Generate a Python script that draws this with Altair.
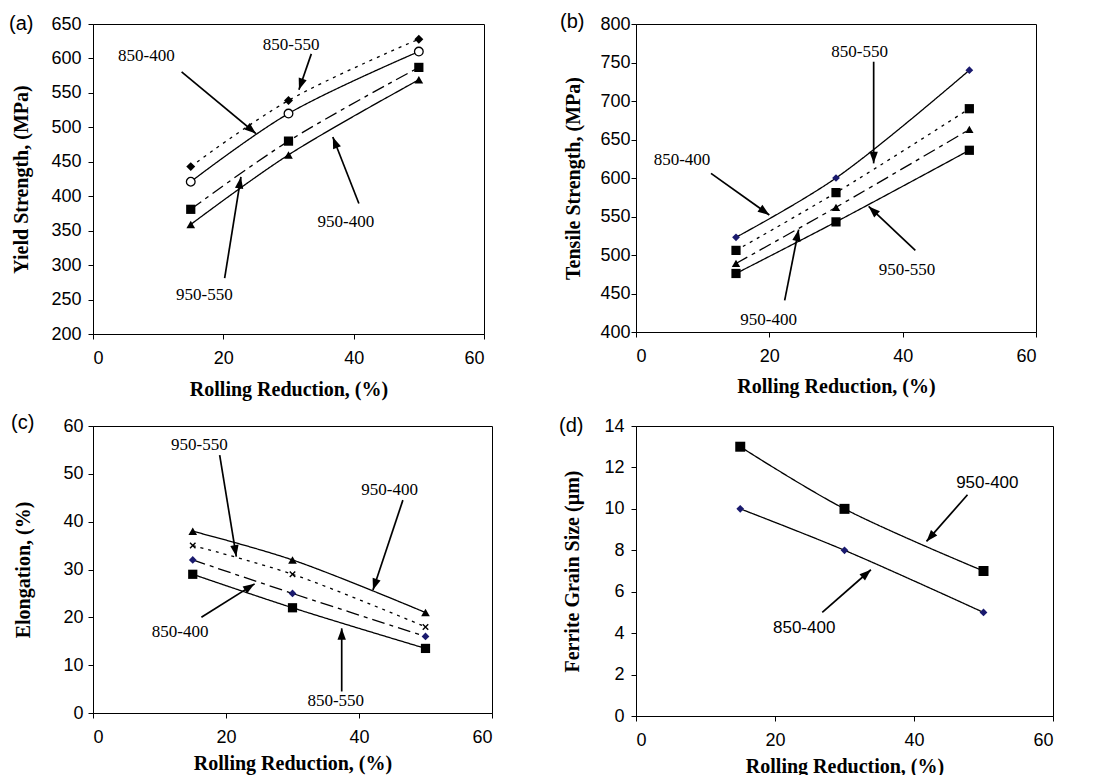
import math
import altair as alt
import pandas as pd

X = [15, 30, 50]

# (a) Yield strength (MPa)
A_DIAMOND = [443, 539, 628]
A_CIRCLE = [421, 520, 610]
A_SQUARE = [381, 480, 587]
A_TRIANGLE = [359, 460, 569]

# (b) Tensile strength (MPa)
B_DIAMOND = [523, 600, 740]
B_SQUARE_DOTTED = [506, 581, 690]
B_TRIANGLE = [489, 562, 663]
B_SQUARE = [476, 543, 636]

# (c) Elongation (%)
C_TRIANGLE = [38, 32, 21]
C_CROSS = [35, 29, 18]
C_DIAMOND = [32, 25, 16]
C_SQUARE = [29, 22, 13.5]

# (d) Ferrite grain size (um)
D_SQUARE = [13, 10, 7]
D_DIAMOND = [10, 8, 5]

# annotations: label text position, arrow start, arrow end (data units)
A_LABELS = ["850-400", "850-550", "950-400", "950-550"]
A_TX = [8.2, 30.4, 38.8, 17.1]
A_TY = [604, 620, 363, 256]
A_X1 = [13.6, 33.5, 40.8, 20.2]
A_Y1 = [580.5, 606.6, 389.5, 281]
A_X2 = [25.0, 31.6, 36.8, 22.7]
A_Y2 = [491, 554.5, 486, 428]

B_LABELS = ["850-400", "850-550", "950-550", "950-400"]
B_TX = [6.9, 33.55, 40.65, 19.9]
B_TY = [623, 764, 481, 416]
B_X1 = [11.25, 35.65, 41.9, 22.3]
B_Y1 = [606, 751, 506, 441]
B_X2 = [20.0, 35.65, 34.9, 24.4]
B_Y2 = [552, 619, 563, 533]

C_LABELS = ["950-550", "950-400", "850-400", "850-550"]
C_TX = [16.0, 44.6, 13.1, 36.5]
C_TY = [56.0, 46.6, 16.9, 2.6]
C_X1 = [19.05, 46.6, 16.3, 37.4]
C_Y1 = [53.9, 44.5, 20.0, 4.5]
C_X2 = [21.55, 42.1, 24.3, 37.4]
C_Y2 = [32.7, 25.7, 27.0, 17.7]

D_LABELS = ["950-400", "850-400"]
D_TX = [50.55, 24.2]
D_TY = [11.27, 4.25]
D_X1 = [47.7, 26.8]
D_Y1 = [10.68, 5.0]
D_X2 = [41.8, 33.8]
D_Y2 = [8.43, 7.06]

# ---- styles ----
SOLID = [1, 0]
DOTTED = [3, 5]
DASHDOT = [13, 5, 4, 5]
NAVY = "#1a1a6e"
ARROW = "M0,0L0.8,2.2L-0.8,2.2Z"
XMARK = "M-1,-1L1,1M1,-1L-1,1"


def panel(tag, series, labels, tx, ty, x1, y1, x2, y2, ydom, ystep, ytitle,
          w, h, title_x, title_y, tag_x, tag_y, text_font, text_size, ylp):
    xs = alt.Scale(domain=[0, 60], nice=False, zero=False)
    ys = alt.Scale(domain=ydom, nice=False, zero=False)
    yticks = list(range(ydom[0], ydom[1] + 1, ystep))
    xaxis = alt.Axis(values=[0, 20, 40, 60], title="Rolling Reduction, (%)",
                     titleY=title_y, titleBaseline="middle", labelPadding=10)
    yaxis = alt.Axis(values=yticks, title=ytitle, titleX=title_x,
                     titleBaseline="middle", labelPadding=ylp)

    def ex(f):
        return alt.X(f, scale=xs, axis=xaxis)

    def ey(f):
        return alt.Y(f, scale=ys, axis=yaxis)

    layers = []
    for vals, shape, dash, filled, color, size, stroke_only in series:
        df = pd.DataFrame({"x": X, "y": vals})
        layers.append(alt.Chart(df).mark_line(
            interpolate="catmull-rom", color="black", strokeWidth=1.3,
            strokeDash=dash).encode(x=ex("x:Q"), y=ey("y:Q")))
        if stroke_only:
            pm = alt.Chart(df).mark_point(shape=shape, filled=False,
                                          stroke="black", strokeWidth=1.4,
                                          size=size, opacity=1)
        elif filled:
            pm = alt.Chart(df).mark_point(shape=shape, filled=True, color=color,
                                          size=size, opacity=1)
        else:
            pm = alt.Chart(df).mark_point(shape=shape, filled=False, fill="white",
                                          stroke="black", strokeWidth=1.3,
                                          size=size, opacity=1)
        layers.append(pm.encode(x=ex("x:Q"), y=ey("y:Q")))

    sx = w / 60.0
    sy = h / float(ydom[1] - ydom[0])
    angs = []
    for a, b, c, d in zip(x1, y1, x2, y2):
        dx = (c - a) * sx
        dy = -(d - b) * sy
        angs.append(math.degrees(math.atan2(dx, -dy)) % 360)
    adf = pd.DataFrame({"x": x1, "y": y1, "x2": x2, "y2": y2, "ang": angs})
    layers.append(alt.Chart(adf).mark_rule(color="black", strokeWidth=1.7).encode(
        x=ex("x:Q"), y=ey("y:Q"), x2="x2:Q", y2="y2:Q"))
    hdf = pd.DataFrame({"x": x2, "y": y2, "ang": angs})
    layers.append(alt.Chart(hdf).mark_point(shape=ARROW, filled=True, color="black",
                                            size=110, opacity=1).encode(
        x=ex("x:Q"), y=ey("y:Q"), angle=alt.Angle("ang:Q", scale=None)))
    tdf = pd.DataFrame({"x": tx, "y": ty, "t": labels})
    layers.append(alt.Chart(tdf).mark_text(font=text_font, fontSize=text_size,
                                           color="black").encode(
        x=ex("x:Q"), y=ey("y:Q"), text="t:N"))
    layers.append(alt.Chart(pd.DataFrame({"t": [tag]})).mark_text(
        align="left", baseline="middle", font="Liberation Sans", fontSize=20,
        color="black").encode(text="t:N", x=alt.value(tag_x), y=alt.value(tag_y)))
    return alt.layer(*layers).properties(width=w, height=h)


pa = panel("(a)", [
    (A_DIAMOND, "diamond", DOTTED, True, "black", 80, False),
    (A_CIRCLE, "circle", SOLID, False, "black", 75, False),
    (A_SQUARE, "square", DASHDOT, True, "black", 85, False),
    (A_TRIANGLE, "triangle-up", SOLID, True, "black", 75, False),
], A_LABELS, A_TX, A_TY, A_X1, A_Y1, A_X2, A_Y2, [200, 650], 50,
    "Yield Strength, (MPa)", 391, 310, -72, 55, -84, 0, "Liberation Serif", 17, 7)

pb = panel("(b)", [
    (B_DIAMOND, "diamond", SOLID, True, NAVY, 60, False),
    (B_SQUARE_DOTTED, "square", DOTTED, True, "black", 85, False),
    (B_TRIANGLE, "triangle-up", DASHDOT, True, "black", 70, False),
    (B_SQUARE, "square", SOLID, True, "black", 85, False),
], B_LABELS, B_TX, B_TY, B_X1, B_Y1, B_X2, B_Y2, [400, 800], 50,
    "Tensile Strength, (MPa)", 400, 308, -63, 54, -76, -2, "Liberation Serif", 17, 1)

pc = panel("(c)", [
    (C_TRIANGLE, "triangle-up", SOLID, True, "black", 75, False),
    (C_CROSS, XMARK, DOTTED, False, "black", 30, True),
    (C_DIAMOND, "diamond", DASHDOT, True, NAVY, 60, False),
    (C_SQUARE, "square", SOLID, True, "black", 85, False),
], C_LABELS, C_TX, C_TY, C_X1, C_Y1, C_X2, C_Y2, [0, 60], 10,
    "Elongation, (%)", 399, 287, -70, 50, -82, -3, "Liberation Serif", 17, 5)

pd_ = panel("(d)", [
    (D_SQUARE, "square", SOLID, True, "black", 100, False),
    (D_DIAMOND, "diamond", SOLID, True, NAVY, 60, False),
], D_LABELS, D_TX, D_TY, D_X1, D_Y1, D_X2, D_Y2, [0, 14], 2,
    "Ferrite Grain Size (µm)", 417, 290, -64, 50, -77, 0, "Liberation Sans", 17, 7)

row1 = alt.hconcat(pa, pb, spacing=74)
row2 = alt.hconcat(pc, pd_, spacing=65)

chart = alt.vconcat(row1, row2, spacing=12).properties(
    padding={"left": 0, "top": 3, "right": 0, "bottom": 0},
    background="white"
).configure_view(stroke="black", strokeWidth=1).configure_axis(
    grid=False, domainColor="black", tickColor="black", tickSize=5,
    labelColor="black", labelFont="Liberation Sans", labelFontSize=18,
    titleColor="black", titleFont="Liberation Serif",
    titleFontWeight="bold", titleFontSize=20
)

chart.save("out.html", embed_options={"renderer": "svg", "actions": False})
